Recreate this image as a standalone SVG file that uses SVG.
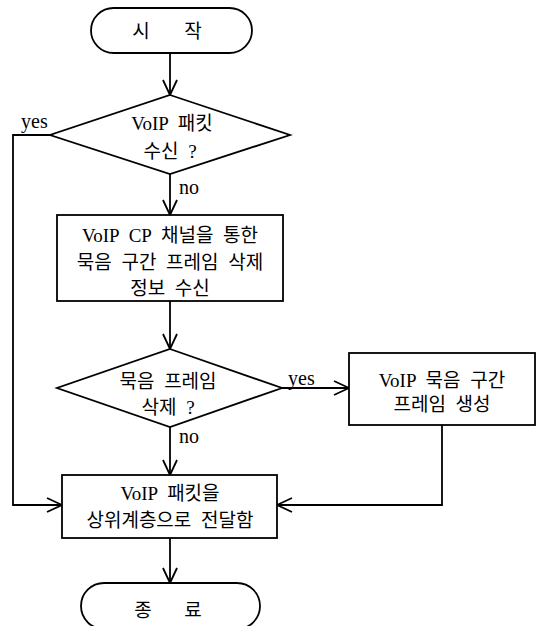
<svg xmlns="http://www.w3.org/2000/svg" width="538" height="626" viewBox="0 0 538 626">
<defs>
<style>
.s{fill:#fff;stroke:#000;stroke-width:1.8}
.c{fill:none;stroke:#000;stroke-width:1.8}
.a{marker-end:url(#arr)}
text{font-family:"Liberation Serif","Noto Sans CJK KR",serif;font-size:19px;word-spacing:5px;fill:#000}
.m{text-anchor:middle}
.l{font-size:20px;word-spacing:0}
</style>
<marker id="arr" markerUnits="userSpaceOnUse" markerWidth="18" markerHeight="16" refX="16" refY="8" orient="auto">
<path d="M1,1 L16,8 L1,15" fill="none" stroke="#000" stroke-width="1.8"/>
</marker>
</defs>
<rect width="538" height="626" fill="#fff"/>
<g id="connectors">
<line class="c a" x1="170" y1="53" x2="170" y2="95"/>
<line class="c a" x1="170" y1="174" x2="170" y2="215"/>
<polyline class="c a" points="50,135 13,135 13,505 62,505"/>
<line class="c a" x1="170" y1="301" x2="170" y2="349"/>
<line class="c a" x1="282" y1="388" x2="349" y2="388"/>
<line class="c a" x1="170" y1="427" x2="170" y2="475"/>
<polyline class="c a" points="442,425 442,505 277,505"/>
<line class="c a" x1="170" y1="538" x2="170" y2="583"/>
<text class="l" x="21" y="128">yes</text>
<text class="l" x="179" y="194">no</text>
<text class="l" x="288" y="385">yes</text>
<text class="l" x="179" y="443">no</text>
</g>
<g id="start">
<rect class="s" x="91" y="8" width="161" height="45" rx="22.5"/>
<text class="m" x="141" y="38">시</text>
<text class="m" x="193" y="38">작</text>
</g>
<g id="decision1">
<polygon class="s" points="170,95 290,135 170,174 50,135"/>
<text class="m" x="172" y="130">VoIP 패킷</text>
<text class="m" x="170" y="158">수신 ?</text>
</g>
<g id="process1">
<rect class="s" x="57" y="215" width="226" height="86"/>
<text class="m" x="170" y="242">VoIP CP 채널을 통한</text>
<text class="m" x="170" y="269">묵음 구간 프레임 삭제</text>
<text class="m" x="170" y="295">정보 수신</text>
</g>
<g id="decision2">
<polygon class="s" points="170,349 282,388 170,427 57,388"/>
<text class="m" x="168" y="388">묵음 프레임</text>
<text class="m" x="168" y="414">삭제 ?</text>
</g>
<g id="process2">
<rect class="s" x="349" y="353" width="186" height="72"/>
<text class="m" x="442" y="387">VoIP 묵음 구간</text>
<text class="m" x="442" y="411">프레임 생성</text>
</g>
<g id="process3">
<rect class="s" x="62" y="475" width="215" height="63"/>
<text class="m" x="170" y="500">VoIP 패킷을</text>
<text class="m" x="170" y="527">상위계층으로 전달함</text>
</g>
<g id="end">
<rect class="s" x="81" y="583" width="179" height="46" rx="23"/>
<text class="m" x="143" y="617">종</text>
<text class="m" x="193" y="617">료</text>
</g>
</svg>
